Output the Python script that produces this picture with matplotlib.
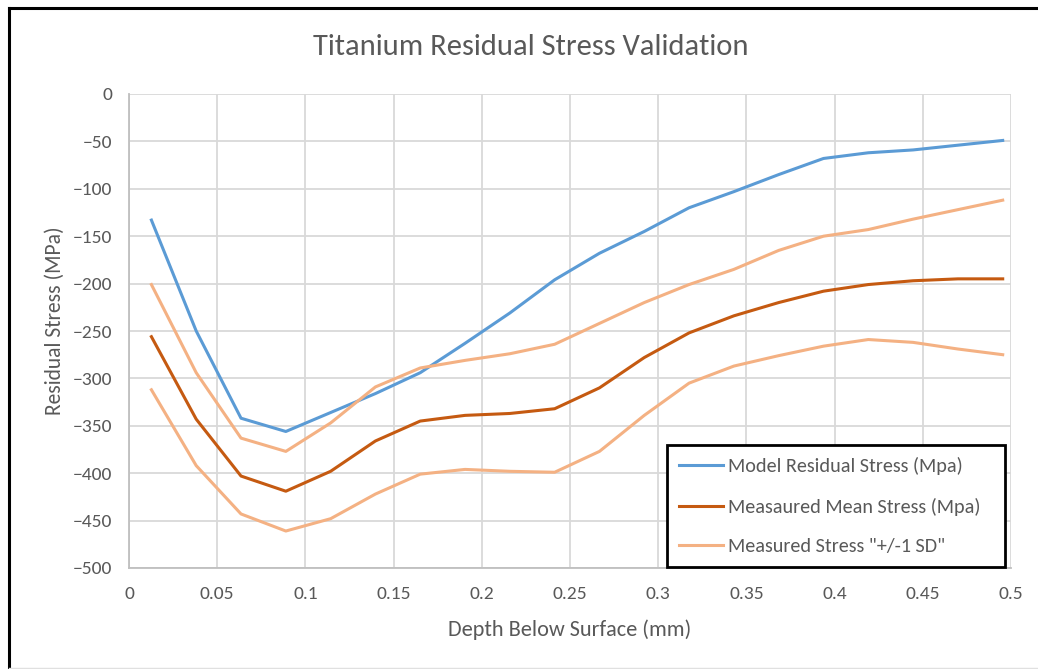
import matplotlib
matplotlib.use("Agg")
import matplotlib.pyplot as plt
from matplotlib import font_manager
from matplotlib.lines import Line2D

# pick a Calibri-like face if one is around
available = {f.name for f in font_manager.fontManager.ttflist}
for name in ["Carlito", "Liberation Sans Narrow", "Open Sans", "DejaVu Sans"]:
    if name in available:
        plt.rcParams['font.family'] = [name, 'DejaVu Sans']
        break

# depth points, 0.001 in steps (mm)
depth = [0.0127, 0.0381, 0.0635, 0.0889, 0.1143, 0.1397, 0.1651, 0.1905, 0.2159, 0.2413,
         0.2667, 0.2921, 0.3175, 0.3429, 0.3683, 0.3937, 0.4191, 0.4445, 0.4699, 0.4953]

model_stress = [-133, -250, -342, -356, -336, -316, -294, -263, -231, -196,
                -168, -145, -120, -103, -85, -68, -62, -59, -54, -49]
mean_stress = [-256, -343, -403, -419, -398, -366, -345, -339, -337, -332,
               -310, -278, -252, -234, -220, -208, -201, -197, -195, -195]
upper_sd = [-201, -294, -363, -377, -347, -309, -289, -281, -274, -264,
            -242, -220, -201, -185, -165, -150, -143, -132, -122, -112]
lower_sd = [-312, -392, -443, -461, -448, -422, -401, -396, -398, -399,
            -377, -339, -305, -287, -276, -266, -259, -262, -269, -275]

BLUE = '#5B9BD5'
DARK = '#C55A11'
LIGHT = '#F4B183'
TEXT = '#595959'
GRID = '#D9D9D9'

W, H = 1038, 669
fig = plt.figure(figsize=(W / 100, H / 100), dpi=100)
fig.patch.set_facecolor('white')

# outer frame: black on top and left, faint grey at the bottom
fig.add_artist(Line2D([9 / W, 9 / W], [0, 1 - 8 / H], color='black', lw=2.2,
                      transform=fig.transFigure))
fig.add_artist(Line2D([9 / W, 1], [1 - 8 / H, 1 - 8 / H], color='black', lw=2.2,
                      transform=fig.transFigure))
fig.add_artist(Line2D([9 / W, 1], [1.5 / H, 1.5 / H], color='#E0E0E0', lw=1,
                      transform=fig.transFigure))

ax = fig.add_axes([129 / W, 1 - 568 / H, (1011 - 129) / W, (568 - 94) / H])

ax.plot(depth, model_stress, color=BLUE, lw=2.2, label='Model Residual Stress (Mpa)')
ax.plot(depth, mean_stress, color=DARK, lw=2.2, label='Measaured Mean Stress (Mpa)')
ax.plot(depth, upper_sd, color=LIGHT, lw=2.2, label='Measured Stress "+/-1 SD"')
ax.plot(depth, lower_sd, color=LIGHT, lw=2.2)

ax.set_xlim(0, 0.5)
ax.set_ylim(-500, 0)
ax.set_xticks([i * 0.05 for i in range(11)])
ax.set_xticklabels(['0', '0.05', '0.1', '0.15', '0.2', '0.25', '0.3', '0.35', '0.4', '0.45', '0.5'])
ax.set_yticks(range(-500, 1, 50))

ax.grid(True, color=GRID, lw=1.3)
ax.set_axisbelow(True)
for side in ['top', 'right']:
    ax.spines[side].set_visible(False)
for side in ['left', 'bottom']:
    ax.spines[side].set_color('#BFBFBF')
    ax.spines[side].set_linewidth(1.3)
ax.tick_params(length=0, colors=TEXT, labelsize=14)
ax.tick_params(axis='x', pad=13)
ax.tick_params(axis='y', pad=12)

fig.text(531 / W, 1 - 47 / H, 'Titanium Residual Stress Validation', fontsize=22,
         color=TEXT, ha='center', va='center')
fig.text(570 / W, 1 - 630 / H, 'Depth Below Surface (mm)', fontsize=16,
         color=TEXT, ha='center', va='center')
fig.text(55 / W, 1 - 321 / H, 'Residual Stress (MPa)', fontsize=15.5, rotation=90,
         color=TEXT, ha='center', va='center')

leg = ax.legend(loc='lower left', bbox_to_anchor=(0.61, 0.002, 0.383, 0.268), mode='expand',
                fontsize=14.5, frameon=True, fancybox=False, handlelength=2.2,
                handletextpad=0.25, labelspacing=1.1, borderaxespad=0, borderpad=0.6)
for t in leg.get_texts():
    t.set_color(TEXT)
frame = leg.get_frame()
frame.set_edgecolor('black')
frame.set_linewidth(2)
frame.set_alpha(1)

fig.savefig('out.png', dpi=100, facecolor='white')
